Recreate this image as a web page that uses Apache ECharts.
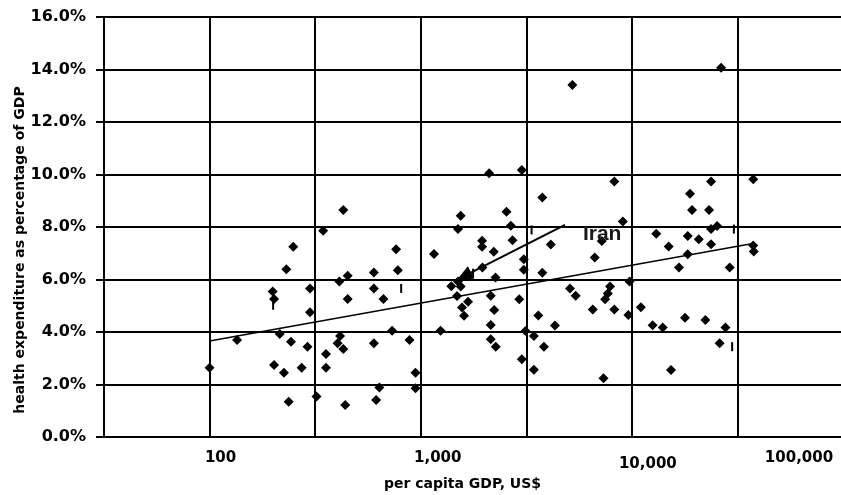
<!DOCTYPE html>
<html>
<head>
<meta charset="utf-8">
<script src="https://cdn.jsdelivr.net/npm/echarts@6/dist/echarts.min.js"></script>
<style>
html,body{margin:0;padding:0;background:#fff;}
#chart{width:841px;height:495px;}
</style>
</head>
<body>
<div id="chart"></div>
<script>
// ---- data (per capita GDP in US$, health expenditure in % of GDP) ----
const gdpPerCapita = [
  100, 135, 199, 202, 231, 215, 243, 202, 225, 237,
  249, 273, 291, 299, 299, 321, 345, 356, 356, 404,
  412, 415, 430, 430, 439, 451, 451, 600, 600, 600,
  615, 637, 666, 732, 765, 779, 885, 945, 945, 1156,
  1242, 1396, 1502, 1546, 1486, 1502, 1546, 1569, 1604, 1676,
  1953, 1953, 1960, 2109, 2146, 2146, 2146, 2218, 2228, 2260,
  2267, 2548, 2671, 2721, 2928, 3012, 3012, 3079, 3079, 3136,
  3435, 3435, 3605, 3766, 3766, 3833, 4132, 4321, 5228, 5093,
  5420, 6528, 6672, 7204, 7340, 7469, 7691, 7887, 8259, 8259,
  9061, 9625, 9752, 11036, 12541, 13049, 14007, 14939, 15320, 16721,
  17858, 18391, 18391, 18859, 19275, 20748, 22293, 23215, 23728, 23728,
  23728, 25336, 26040, 26470, 27750, 29060, 37570, 37570, 37780
];
const healthShare = [
  2.64, 3.70, 5.54, 5.26, 6.39, 3.92, 3.63, 2.74, 2.45, 1.34,
  7.25, 2.64, 3.44, 5.66, 4.75, 1.54, 7.86, 3.16, 2.64, 3.57,
  5.92, 3.85, 3.35, 8.65, 1.22, 6.14, 5.26, 6.27, 5.66, 3.57,
  1.41, 1.89, 5.26, 4.05, 7.15, 6.35, 3.70, 2.45, 1.86, 6.97,
  4.05, 5.74, 5.92, 5.73, 5.37, 7.92, 8.43, 4.93, 4.62, 5.15,
  7.48, 7.25, 6.46, 10.05, 5.38, 4.27, 3.72, 7.06, 4.84, 6.08,
  3.44, 8.58, 8.05, 7.50, 5.25, 10.17, 2.96, 6.77, 6.37, 4.04,
  3.85, 2.56, 4.63, 9.12, 6.26, 3.44, 7.33, 4.25, 13.41, 5.66,
  5.38, 4.86, 6.84, 7.47, 2.24, 5.25, 5.47, 5.73, 4.86, 9.73,
  8.21, 4.65, 5.92, 4.94, 4.26, 7.74, 4.17, 7.26, 2.55, 6.46,
  4.54, 7.66, 6.96, 9.27, 8.65, 7.53, 4.46, 8.65, 9.73, 7.92,
  7.34, 8.04, 3.57, 14.07, 4.17, 6.46, 9.82, 7.30, 7.07
];
// small vertical tick marks present in the original plot
const markGdp = [200, 808, 1770, 3350, 29850, 30420];
const markShare = [5.02, 5.66, 6.24, 7.89, 3.44, 7.92];
// logarithmic trend line end points
const trendGdp = [100, 38000];
const trendShare = [3.66, 7.38];
// Iran annotation: arrow from label to point
const iranLabelPoint = [4820, 8.08];
const iranPoint = [1603, 6.13];
const iranLabel = 'Iran';
// axis tick labels
const xTickValues = [100, 1000, 10000, 100000];
const xTickLabels = ['100', '1,000', '10,000', '100,000'];
const yMin = 0, yMax = 16, yStep = 2;
const xMin = Math.pow(10, 1.5), xMax = 100000;

const FONT = 'DejaVu Sans';
const chart = echarts.init(document.getElementById('chart'), null, {renderer: 'canvas'});

const scatterData = gdpPerCapita.map((g, i) => [g, healthShare[i]]);
const markData = markGdp.map((g, i) => [g, markShare[i]]);
const trendData = trendGdp.map((g, i) => [g, trendShare[i]]);

const labelPads = [[0,0,0,22],[0,0,0,34],[6,0,0,32],[0,88,0,0]];
const rich = {};
labelPads.forEach((p, i) => {
  rich['l' + i] = {padding: p, fontFamily: FONT, fontWeight: 'bold', fontSize: 15, color: '#000'};
});

chart.setOption({
  animation: false,
  backgroundColor: '#fff',
  grid: {left: 104, right: -2, top: 17, bottom: 58, containLabel: false, outerBoundsMode: 'none'},
  xAxis: {
    type: 'log',
    logBase: Math.sqrt(10),
    min: xMin,
    max: xMax,
    splitNumber: 7,
    name: 'per capita GDP, US$',
    nameLocation: 'middle',
    nameGap: 40,
    nameMoveOverlap: false,
    nameTextStyle: {fontFamily: FONT, fontWeight: 'bold', fontSize: 14, color: '#000', padding: [0, 22, 0, 0]},
    axisLine: {show: true, lineStyle: {color: '#000', width: 2}},
    axisTick: {show: false},
    splitLine: {show: true, lineStyle: {color: '#000', width: 2}},
    axisLabel: {
      show: true,
      showMinLabel: true,
      showMaxLabel: true,
      hideOverlap: false,
      margin: 14,
      formatter: function (v) {
        const e = Math.log10(v);
        const i = xTickValues.findIndex(t => Math.abs(Math.log10(t) - e) < 1e-6);
        return i < 0 ? '' : '{l' + i + '|' + xTickLabels[i] + '}';
      },
      rich: rich
    }
  },
  yAxis: {
    type: 'value',
    min: yMin,
    max: yMax,
    interval: yStep,
    name: 'health expenditure as percentage of GDP',
    nameLocation: 'middle',
    nameGap: 77,
    nameMoveOverlap: false,
    nameTextStyle: {fontFamily: FONT, fontWeight: 'bold', fontSize: 14, color: '#000', padding: [0, 46, 0, 0]},
    axisLine: {show: true, lineStyle: {color: '#000', width: 2}},
    axisTick: {show: true, length: 8, inside: false, lineStyle: {color: '#000', width: 2}},
    splitLine: {show: true, lineStyle: {color: '#000', width: 2}},
    axisLabel: {
      margin: 18,
      fontFamily: FONT, fontWeight: 'bold', fontSize: 16, color: '#000',
      padding: [8, 0, 0, 0],
      formatter: v => v.toFixed(1) + '%'
    }
  },
  series: [
    {
      type: 'line',
      data: trendData,
      symbol: 'none',
      silent: true,
      lineStyle: {color: '#000', width: 1.6},
      z: 3
    },
    {
      type: 'scatter',
      data: scatterData,
      symbol: 'diamond',
      symbolSize: 10,
      itemStyle: {color: '#000', opacity: 1},
      silent: true,
      z: 4
    },
    {
      type: 'scatter',
      data: markData,
      symbol: 'rect',
      symbolSize: [2, 9],
      itemStyle: {color: '#000', opacity: 1},
      silent: true,
      z: 4
    },
    {
      // arrow shaft from the label to Iran
      type: 'line',
      data: [iranLabelPoint, iranPoint],
      symbol: 'none',
      silent: true,
      lineStyle: {color: '#000', width: 2},
      z: 6
    },
    {
      // arrow head at Iran
      type: 'scatter',
      data: [iranPoint],
      symbol: 'triangle',
      symbolSize: [14, 16],
      symbolRotate: 117,
      itemStyle: {color: '#000', opacity: 1},
      silent: true,
      z: 7
    },
    {
      type: 'scatter',
      data: [iranLabelPoint],
      symbolSize: 0,
      silent: true,
      z: 5,
      itemStyle: {opacity: 1},
      label: {
        show: true,
        position: 'right',
        distance: 18,
        offset: [0, 9],
        formatter: iranLabel,
        fontFamily: 'Liberation Sans',
        fontWeight: 'bold',
        fontSize: 21,
        color: '#1a1a1a'
      }
    }
  ]
});
</script>
</body>
</html>
